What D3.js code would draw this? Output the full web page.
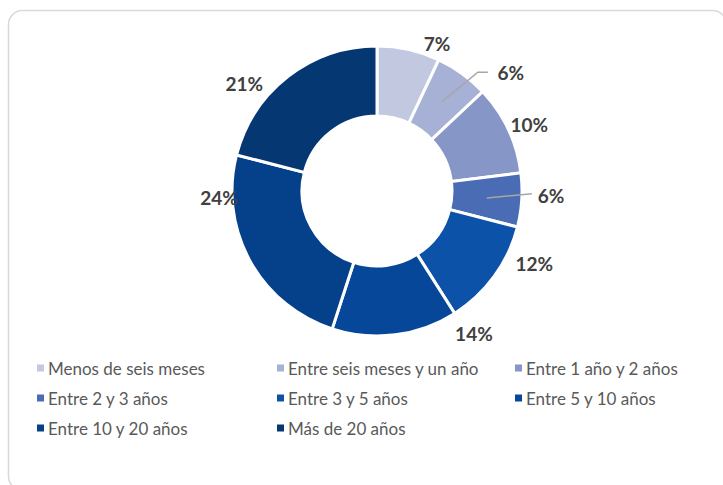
<!DOCTYPE html>
<html>
<head>
<meta charset="utf-8">
<script src="https://cdn.jsdelivr.net/npm/d3@7"></script>
<style>
  html, body { margin: 0; padding: 0; background: #ffffff; }
  svg { display: block; }
</style>
</head>
<body>
<svg id="chart" width="723" height="485"></svg>
<script>
// Antigüedad: share of each duration band
const categories = [
  "Menos de seis meses",
  "Entre seis meses y un año",
  "Entre 1 año y 2 años",
  "Entre 2 y 3 años",
  "Entre 3 y 5 años",
  "Entre 5 y 10 años",
  "Entre 10 y 20 años",
  "Más de 20 años"
];
const values = [7, 6, 10, 6, 12, 14, 24, 21];
const valueLabels = ["7%", "6%", "10%", "6%", "12%", "14%", "24%", "21%"];
const colors = ["#c2c8df", "#a7b1d6", "#8596c7", "#4a6cb5", "#0b52a8", "#06479a", "#05408a", "#053772"];

const svg = d3.select("#chart");

// card frame
svg.append("rect")
  .attr("x", 8.5).attr("y", 10.5)
  .attr("width", 718).attr("height", 480)
  .attr("rx", 14).attr("ry", 14)
  .attr("fill", "#ffffff")
  .attr("stroke", "#d9d9d9")
  .attr("stroke-width", 1.5);

const cx = 377, cy = 191;
const outerR = 145, innerR = 75;

const pie = d3.pie().sort(null).value(d => d);
const arcs = pie(values);
const arc = d3.arc().innerRadius(innerR).outerRadius(outerR);

const g = svg.append("g").attr("transform", `translate(${cx},${cy})`);

g.selectAll("path.slice")
  .data(arcs)
  .join("path")
  .attr("class", "slice")
  .attr("d", arc)
  .attr("fill", (d, i) => colors[i])
  .attr("stroke", "#ffffff")
  .attr("stroke-width", 3)
  .attr("stroke-linejoin", "miter");

// label placement: polar position (angle in degrees from 12 o'clock, radius) for each label
const labelPolar = [
  [22.2, 159], [48.4, 179], [66.5, 166], [91.6, 174],
  [114.6, 173], [145.7, 172], [267.8, 158], [309.1, 171]
];
const toXY = (deg, r) => {
  const a = deg * Math.PI / 180;
  return [r * Math.sin(a), -r * Math.cos(a)];
};

// leader lines for the two narrow slices whose labels sit away from them
[1, 3].forEach(i => {
  const d = arcs[i];
  const mid = (d.startAngle + d.endAngle) / 2;
  const rIn = (innerR + outerR) / 2;
  const p0 = [rIn * Math.sin(mid), -rIn * Math.cos(mid)];
  const lp = toXY(labelPolar[i][0], labelPolar[i][1]);
  const pts = i === 1
    ? [p0, [lp[0] - 33, lp[1]], [lp[0] - 23, lp[1]]]
    : [p0, [lp[0] - 19, lp[1] - 2]];
  g.append("path")
    .attr("d", d3.line()(pts))
    .attr("fill", "none")
    .attr("stroke", "#a6a6a6")
    .attr("stroke-width", 1.5);
});

g.selectAll("text.val")
  .data(arcs)
  .join("text")
  .attr("class", "val")
  .attr("x", (d, i) => toXY(labelPolar[i][0], labelPolar[i][1])[0])
  .attr("y", (d, i) => toXY(labelPolar[i][0], labelPolar[i][1])[1])
  .attr("text-anchor", "middle")
  .attr("dominant-baseline", "central")
  .attr("font-family", "Lato, 'Open Sans', sans-serif")
  .attr("font-weight", "bold")
  .attr("font-size", 19)
  .attr("fill", "#404040")
  .text((d, i) => valueLabels[i]);

// legend: three columns, three rows
const colX = [48, 288, 526];
const rowY = [368, 398, 428];
const legend = svg.append("g");
categories.forEach((c, i) => {
  const col = i % 3, row = Math.floor(i / 3);
  const x = colX[col], y = rowY[row];
  legend.append("rect")
    .attr("x", x - 11).attr("y", y - 3.5)
    .attr("width", 7).attr("height", 7)
    .attr("fill", colors[i]);
  legend.append("text")
    .attr("x", x).attr("y", y)
    .attr("dominant-baseline", "central")
    .attr("font-family", "Lato, 'Open Sans', sans-serif")
    .attr("font-size", 17)
    .attr("fill", "#595959")
    .text(c);
});
</script>
</body>
</html>
